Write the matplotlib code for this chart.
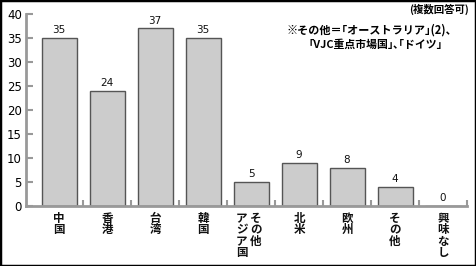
import matplotlib
matplotlib.use("Agg")
import matplotlib.pyplot as plt
from matplotlib.patches import Rectangle
from matplotlib.transforms import blended_transform_factory

plt.rcParams['font.family'] = ['Noto Sans CJK JP', 'DejaVu Sans']

categories = ["中国", "香港", "台湾", "韓国", "その他アジア国", "北米", "欧州", "その他", "興味なし"]
values = [35, 24, 37, 35, 5, 9, 8, 4, 0]
yticks = [0, 5, 10, 15, 20, 25, 30, 35, 40]

fig = plt.figure(figsize=(4.76, 2.66), dpi=100)
ax = fig.add_axes([26/476, 1-206/266, (467-26)/476, (206-14)/266])

x = list(range(len(values)))
ax.bar(x, values, width=0.73, color="#cccccc", edgecolor="#555555", linewidth=1.0, zorder=2)

for xi, v in zip(x, values):
    ax.text(xi, v + 0.6, str(v), ha="center", va="bottom", fontsize=7.5,
            family="DejaVu Sans", color="#111111")

ax.set_xlim(-0.69, 8.5)
ax.set_ylim(0, 40)
ax.set_yticks(yticks)
ax.set_yticklabels([str(t) for t in yticks], fontsize=8.5, family="DejaVu Sans")
ax.set_xticks([i + 0.5 for i in range(9)])
ax.set_xticklabels([])
ax.tick_params(axis="y", direction="in", length=5, width=1.5, color="#999999", pad=3)
ax.tick_params(axis="x", direction="in", length=4, width=1.5, color="#999999")
for s in ["top", "right"]:
    ax.spines[s].set_visible(False)
for s in ["left", "bottom"]:
    ax.spines[s].set_color("#999999")
    ax.spines[s].set_linewidth(2)

trans = blended_transform_factory(ax.transData, ax.transAxes)
lab_kw = dict(transform=trans, ha="center", va="top", fontsize=8.3,
              linespacing=0.85, weight="bold", color="#111111")
for xi, lab in zip(x, categories):
    if lab == "その他アジア国":
        ax.text(xi + 0.1, -0.03, "\n".join("その他"), **lab_kw)
        ax.text(xi - 0.19, -0.03, "\n".join("アジア国"), **lab_kw)
    else:
        ax.text(xi, -0.03, "\n".join(lab), **lab_kw)

fig.text(469/476, 1-9/266, "(複数回答可)", ha="right", va="center", fontsize=7.5, weight="bold")
fig.text(286/476, 1-30/266, "※その他＝｢オーストラリア｣(2)、", ha="left", va="center",
         fontsize=8, weight="bold")
fig.text(308/476, 1-45/266, "｢VJC重点市場国｣､｢ドイツ｣", ha="left", va="center",
         fontsize=7.8, weight="bold")

fig.patches.append(Rectangle((0, 0), 1, 1, transform=fig.transFigure, fill=False,
                             edgecolor="black", linewidth=2.5))

fig.savefig("out.png", dpi=100)
